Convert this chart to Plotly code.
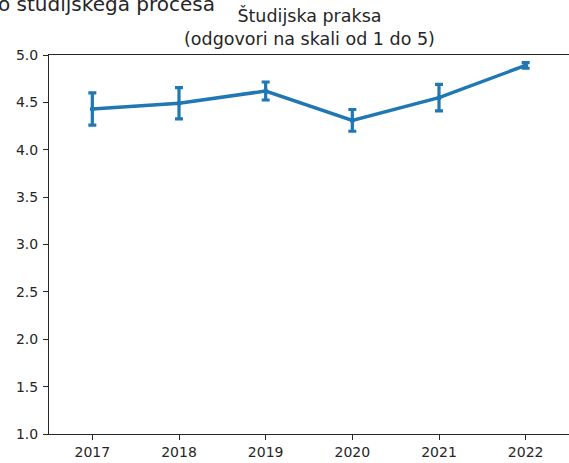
import plotly.graph_objects as go

# survey years and mean scores (scale 1-5), with error bar half-widths
years = ["2017", "2018", "2019", "2020", "2021", "2022"]
means = [4.43, 4.49, 4.62, 4.31, 4.55, 4.89]
errors = [0.17, 0.165, 0.095, 0.115, 0.14, 0.03]
y_ticks = [1.0, 1.5, 2.0, 2.5, 3.0, 3.5, 4.0, 4.5, 5.0]

blue = "#1f77b4"
ink = "#262626"

fig = go.Figure()
fig.add_trace(go.Scatter(
    x=years, y=means,
    mode="lines+markers",
    line=dict(color=blue, width=3.5),
    marker=dict(color=blue, size=5),
    error_y=dict(type="data", array=errors, visible=True,
                 color=blue, thickness=3.2, width=4),
    showlegend=False,
))

fig.update_layout(
    width=569, height=463,
    margin=dict(l=49, r=0, t=55, b=29),
    plot_bgcolor="white", paper_bgcolor="white",
    font=dict(family="DejaVu Sans", color=ink),
)

fig.update_xaxes(
    type="category", range=[-0.5, 5.5],
    showline=True, mirror=True, linecolor=ink, linewidth=1,
    ticks="outside", ticklen=5, tickcolor=ink,
    showgrid=False, tickfont=dict(size=14, color=ink),
)
fig.update_yaxes(
    range=[1, 5], tickvals=y_ticks, tickformat=".1f",
    showline=True, mirror=False, linecolor=ink, linewidth=1,
    ticks="outside", ticklen=5, tickcolor=ink, ticklabelstandoff=2,
    showgrid=False, zeroline=False, tickfont=dict(size=14, color=ink),
)

# axes title (two lines) and the figure title cut off at the top-left
fig.add_annotation(
    text="Študijska praksa<br>(odgovori na skali od 1 do 5)",
    xref="paper", yref="paper", x=0.5, y=1.0726,
    xanchor="center", yanchor="middle", showarrow=False,
    font=dict(size=17.5, color=ink),
)
fig.add_annotation(
    text="o študijskega procesa",
    xref="paper", yref="paper", x=0.323, y=1.1346,
    xanchor="right", yanchor="middle", showarrow=False,
    font=dict(size=20, color=ink),
)

# drop the default page margin so the figure fills the window
fig.write_html("out.html", config={"displayModeBar": False},
               post_script="document.body.style.margin='0';")
